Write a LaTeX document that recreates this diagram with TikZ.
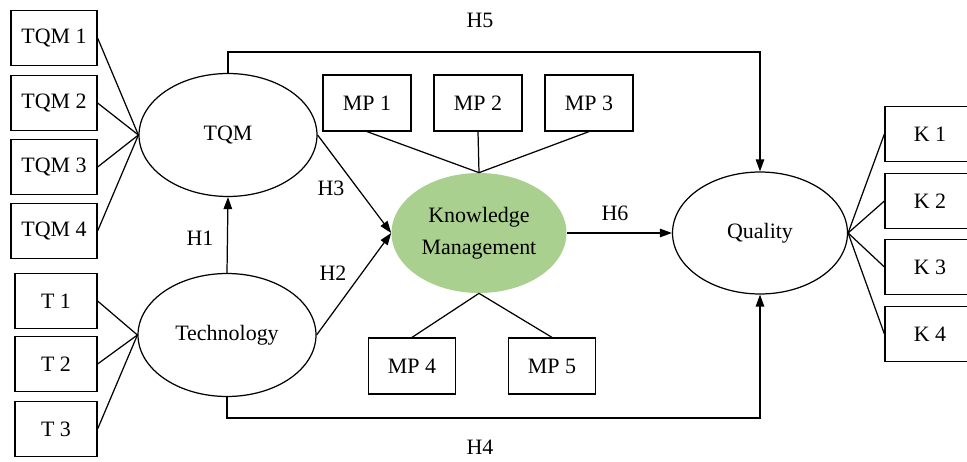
\documentclass[tikz,border=0pt]{standalone}
\usepackage{fontspec}
\setmainfont{Liberation Serif}
\usepackage{tikz}
\usetikzlibrary{shapes.geometric, arrows.meta, calc}

\begin{document}
\begin{tikzpicture}[
    x=0.02cm, y=-0.02cm,
    % Define styles for consistency
    every node/.style={font=\fontsize{12.5}{18}\selectfont},
    indicator/.style={rectangle, draw, line width=0.7pt, minimum width=1.72cm, minimum height=1.09cm, inner sep=0pt},
    construct/.style={ellipse, draw, line width=0.7pt, minimum width=3.56cm, minimum height=2.46cm, inner sep=0pt},
    mediator/.style={ellipse, fill=kmgreen, minimum width=3.5cm, minimum height=2.4cm, inner sep=0pt, align=center},
    link/.style={line width=0.7pt},
    path_arrow/.style={line width=0.7pt, -{Triangle[length=2.4mm, width=1.7mm]}},
    hyp_label/.style={inner sep=1pt}
]
    \definecolor{kmgreen}{HTML}{A9D08E}
    \useasboundingbox (0,0) rectangle (967,462);

    % ---------------------------------------------------------
    % 1. The Constructs
    % ---------------------------------------------------------
    \node[construct] (tqm) at (228,135) {TQM};
    \node[construct] (tech) at (227,335) {Technology};
    \node[mediator] (km) at (479,233) {Knowledge\\Management};
    \node[construct, minimum width=3.5cm, minimum height=2.44cm] (quality) at (760,233) {Quality};

    % ---------------------------------------------------------
    % 2. The Indicators
    % ---------------------------------------------------------
    % TQM items
    \foreach \i/\y in {1/38, 2/103, 3/167, 4/231} {
        \node[indicator] (tqm\i) at (54,\y) {TQM \i};
        \draw[link] (tqm\i.east) -- (tqm.west);
    }

    % Technology items
    \foreach \i/\y in {1/301, 2/364, 3/429} {
        \node[indicator, minimum width=1.64cm] (t\i) at (56,\y) {T \i};
        \draw[link] (t\i.east) -- (tech.west);
    }

    % Knowledge management items (above)
    \foreach \i/\x in {1/367, 2/478, 3/589} {
        \node[indicator, minimum width=1.76cm, minimum height=1.12cm] (mp\i) at (\x,103) {MP \i};
        \draw[link] (mp\i.south) -- (km.north);
    }

    % Knowledge management items (below)
    \foreach \i/\x in {4/412, 5/552} {
        \node[indicator, minimum width=1.74cm, minimum height=1.12cm] (mp\i) at (\x,366) {MP \i};
        \draw[link] (mp\i.north) -- (km.south);
    }

    % Quality items
    \foreach \i/\y in {1/134, 2/201, 3/267, 4/334} {
        \node[indicator, minimum width=1.8cm] (k\i) at (930,\y) {K \i};
        \draw[link] (quality.east) -- (k\i.west);
    }

    % ---------------------------------------------------------
    % 3. The Hypotheses
    % ---------------------------------------------------------
    \draw[path_arrow] (tech.north) -- (tqm.south);
    \node[hyp_label] (h1) at (200,238) {H1};

    \draw[path_arrow] (tech.east) -- (km.west);
    \node[hyp_label] (h2) at (333,273) {H2};

    \draw[path_arrow] (tqm.east) -- (km.west);
    \node[hyp_label] (h3) at (331,188) {H3};

    \draw[path_arrow] (tech.south) -- ++(0,21) -| (quality.south);
    \node[hyp_label] (h4) at (480,447) {H4};

    \draw[path_arrow] (tqm.north) -- ++(0,-21) -| (quality.north);
    \node[hyp_label] (h5) at (480,20) {H5};

    \draw[path_arrow] (km.east) -- (quality.west);
    \node[hyp_label] (h6) at (615,213) {H6};
\end{tikzpicture}
\end{document}
